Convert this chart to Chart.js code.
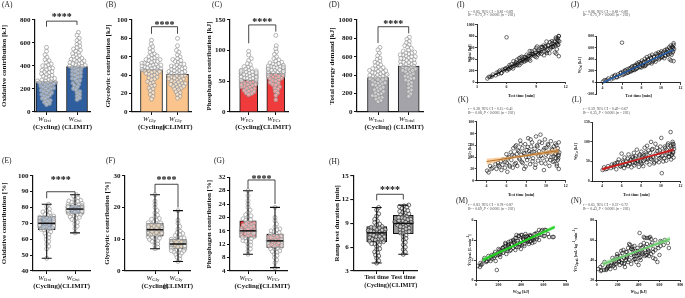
<!DOCTYPE html>
<html>
<head>
<meta charset="utf-8">
<script src="https://cdn.jsdelivr.net/npm/chart.js@4.4.1/dist/chart.umd.min.js"></script>
<style>
  body { margin: 0; width: 685px; height: 298px; position: relative; overflow: hidden; background: #fff; font-family: "Liberation Serif", "Times New Roman", serif; }
  canvas { position: absolute; }
  .tag { position: absolute; font-size: 7.5px; line-height: 1; color: #222; white-space: nowrap; z-index: 2; }
  .stat { position: absolute; font-size: 3.7px; line-height: 3.8px; color: #444; white-space: nowrap; z-index: 2; }
</style>
</head>
<body>
<div class="tag" style="left:2px;top:1px">(A)</div>
<div class="tag" style="left:106px;top:1px">(B)</div>
<div class="tag" style="left:212px;top:1px">(C)</div>
<div class="tag" style="left:329px;top:1px">(D)</div>
<div class="tag" style="left:2px;top:157px">(E)</div>
<div class="tag" style="left:106px;top:157px">(F)</div>
<div class="tag" style="left:214px;top:157px">(G)</div>
<div class="tag" style="left:329px;top:158px">(H)</div>
<div class="tag" style="left:457px;top:1px">(I)</div>
<div class="tag" style="left:571px;top:1px">(J)</div>
<div class="tag" style="left:458px;top:96px">(K)</div>
<div class="tag" style="left:572px;top:96px">(L)</div>
<div class="tag" style="left:456px;top:197px">(M)</div>
<div class="tag" style="left:571px;top:197px">(N)</div>

<div class="stat" style="left:468px;top:10.5px"><i>r</i> = 0.85, 95% CI = 0.81 - 0.89<br><i>R</i>² = 0.73, <i>P</i> &lt; 0.0001 (<i>n</i> = 202)</div>
<div class="stat" style="left:583px;top:10.5px"><i>r</i> = 0.86, 95% CI = 0.82 - 0.89<br><i>R</i>² = 0.75, <i>P</i> &lt; 0.0001 (<i>n</i> = 202)</div>
<div class="stat" style="left:468px;top:108px"><i>r</i> = 0.28, 95% CI = 0.15 - 0.41<br><i>R</i>² = 0.08, <i>P</i> &lt; 0.0001 (<i>n</i> = 202)</div>
<div class="stat" style="left:583px;top:108px"><i>r</i> = 0.59, 95% CI = 0.49 - 0.67<br><i>R</i>² = 0.35, <i>P</i> &lt; 0.0001 (<i>n</i> = 202)</div>
<div class="stat" style="left:468px;top:204px"><i>r</i> = 0.83, 95% CI = 0.78 - 0.87<br><i>R</i>² = 0.69, <i>P</i> &lt; 0.0001 (<i>n</i> = 202)</div>
<div class="stat" style="left:583px;top:204px"><i>r</i> = 0.65, 95% CI = 0.57 - 0.72<br><i>R</i>² = 0.43, <i>P</i> &lt; 0.0001 (<i>n</i> = 202)</div>

<script>
// ---- data ----
const groups = ['(Cycling)', '(CLIMIT)'];
const testLabels = ['Test time', 'Test time'];

// absolute contributions (bars = means, dots = individuals)
const oxiMeans = [265, 395];
const oxiCycling = [562, 528, 497, 476, 455, 446, 431, 418, 409, 402, 394, 381, 377, 368, 362, 351, 347, 342, 333, 326, 318, 311, 309, 298, 292, 289, 281, 277, 270, 268, 262, 257, 251, 249, 243, 236, 231, 227, 219, 214, 208, 201, 197, 189, 182, 176, 168, 161, 152, 147, 138, 129, 118, 112, 101, 93, 84, 73, 64, 255];
const oxiClimit = [692, 668, 641, 622, 605, 588, 574, 561, 548, 537, 529, 516, 507, 498, 489, 481, 472, 466, 458, 451, 444, 437, 431, 426, 418, 411, 405, 399, 392, 386, 379, 371, 364, 356, 349, 341, 333, 326, 318, 309, 301, 292, 284, 273, 262, 251, 240, 228, 216, 203, 191, 178, 165, 151, 138, 122, 108, 420, 455, 395];

const glyMeans = [46, 41];
const glyCycling = [78, 74, 71, 69, 67, 65, 63, 62, 60, 59, 58, 57, 56, 55, 54, 53, 52, 52, 51, 50, 49, 49, 48, 47, 47, 46, 45, 45, 44, 43, 42, 41, 40, 39, 38, 37, 36, 35, 33, 32, 31, 29, 28, 26, 25, 23, 21, 19, 17, 14, 53, 55, 50, 48, 46, 44, 57, 51, 42, 61];
const glyClimit = [80, 72, 67, 65, 62, 60, 58, 57, 55, 54, 52, 51, 50, 49, 48, 47, 46, 45, 44, 44, 43, 42, 41, 41, 40, 39, 38, 37, 36, 35, 34, 33, 32, 31, 30, 29, 28, 27, 26, 25, 24, 22, 21, 19, 17, 15, 45, 47, 49, 43, 39, 37, 34, 31, 28, 52, 56, 40, 36, 30];

const pcrMeans = [52, 63];
const pcrCycling = [99, 93, 87, 84, 79, 77, 74, 73, 71, 70, 68, 68, 67, 65, 65, 63, 63, 62, 60, 60, 59, 58, 56, 56, 55, 53, 53, 52, 50, 50, 49, 47, 47, 46, 44, 44, 43, 41, 41, 40, 38, 38, 36, 35, 34, 33, 31, 30, 28, 62, 58, 55, 64, 66, 52, 57, 61, 51, 45, 57];
const pcrClimit = [125, 108, 103, 98, 94, 90, 87, 85, 83, 81, 80, 78, 77, 76, 74, 74, 73, 71, 71, 70, 68, 68, 66, 66, 65, 63, 63, 62, 60, 60, 59, 57, 57, 55, 55, 54, 52, 51, 50, 48, 47, 45, 44, 41, 39, 37, 34, 31, 27, 20, 70, 72, 75, 66, 69, 64, 61, 58, 73, 79];

const totMeans = [375, 500];
const totCycling = [702, 676, 641, 612, 588, 571, 553, 541, 527, 512, 503, 489, 482, 468, 461, 449, 443, 431, 422, 412, 401, 396, 388, 379, 372, 361, 352, 343, 331, 322, 311, 303, 289, 282, 268, 261, 249, 241, 228, 222, 209, 198, 191, 178, 172, 158, 151, 139, 124, 112, 432, 471, 383, 354, 318, 408, 452, 362, 298, 398];
const totClimit = [812, 791, 768, 752, 733, 721, 704, 692, 673, 662, 651, 638, 631, 619, 608, 602, 588, 579, 571, 562, 548, 542, 531, 518, 511, 502, 489, 482, 468, 461, 452, 439, 431, 418, 412, 398, 388, 379, 368, 361, 347, 336, 318, 302, 281, 262, 238, 221, 196, 171, 601, 562, 522, 538, 582, 498, 621, 478, 642, 451];

// relative contributions and test time: box = [min, q1, median, q3, max]
const oxiPctBox = [[48, 66, 70, 74.5, 82], [64, 76, 79, 81.5, 88]];
const oxiPctCycling = [82, 80.5, 79, 78, 77.2, 76.5, 75.8, 75, 74.6, 74.1, 73.6, 73.2, 72.7, 72.3, 71.8, 71.4, 71, 70.6, 70.3, 70, 69.7, 69.3, 69, 68.6, 68.2, 67.8, 67.4, 67, 66.6, 66.2, 65.8, 65.2, 64.6, 63.8, 63, 62, 61, 59.8, 58.5, 57, 55.5, 54, 48, 70.8, 71.6, 69.5, 72.9, 67.7, 68.9, 73.9];
const oxiPctClimit = [88, 87, 86, 85.2, 84.5, 83.8, 83.2, 82.6, 82, 81.6, 81.2, 80.8, 80.4, 80, 79.7, 79.4, 79.1, 78.8, 78.5, 78.2, 77.9, 77.5, 77.1, 76.7, 76.3, 75.9, 75.4, 74.8, 74.1, 73.3, 72.5, 71.6, 70.6, 69.5, 68.2, 66.8, 64, 79.2, 80.2, 81.4, 78.9, 77.6, 76.9, 82.9, 84.1, 75.6, 73.8, 79.9, 80.6, 78.1];

const glyPctBox = [[7, 11, 13, 15, 24], [3, 7, 8.5, 10, 19]];
const glyPctCycling = [24, 22, 21, 20, 19, 18.3, 17.6, 17, 16.5, 16, 15.6, 15.2, 14.9, 14.6, 14.3, 14, 13.7, 13.4, 13.1, 12.8, 12.5, 12.2, 11.9, 11.6, 11.3, 11, 10.7, 10.3, 9.9, 9.5, 9, 8.5, 8, 7.5, 7, 13.2, 12.9, 14.1, 11.8, 13.6, 12.4, 15.1, 10.6, 9.3, 16.3, 12.1, 13.9, 11.4, 14.4, 10.1];
const glyPctClimit = [19, 16, 15, 14, 13.2, 12.5, 11.8, 11.2, 10.7, 10.3, 10, 9.7, 9.4, 9.1, 8.9, 8.7, 8.5, 8.3, 8.1, 7.9, 7.7, 7.5, 7.3, 7.1, 6.9, 6.6, 6.3, 6, 5.6, 5.2, 4.8, 4.3, 3.8, 3, 8.6, 9.2, 7.8, 8.2, 9.8, 7.2, 6.8, 10.4, 11.5, 5.8, 9, 8.8, 7.6, 12.1, 6.4, 8];

const pcrPctBox = [[9, 14, 16, 19, 28], [5, 11, 13, 15, 23]];
const pcrPctCycling = [28, 26.5, 25, 24, 23, 22.2, 21.5, 20.8, 20.2, 19.6, 19.1, 18.7, 18.3, 17.9, 17.5, 17.1, 16.7, 16.3, 16, 15.7, 15.4, 15.1, 14.8, 14.5, 14.2, 13.9, 13.5, 13.1, 12.7, 12.2, 11.7, 11.2, 10.6, 10, 9, 16.1, 15.8, 17.3, 14.6, 18.1, 15.2, 16.9, 13.7, 19.3, 12.9, 17.7, 14.1, 16.5, 20.5, 15.5];
const pcrPctClimit = [23, 20, 19, 18, 17.2, 16.6, 16, 15.5, 15.1, 14.7, 14.4, 14.1, 13.8, 13.5, 13.2, 13, 12.8, 12.6, 12.3, 12, 11.7, 11.4, 11.1, 10.8, 10.4, 10, 9.6, 9.1, 8.6, 8, 7.3, 6.5, 5, 13.1, 12.7, 14.2, 11.9, 13.6, 12.2, 14.9, 10.6, 15.8, 11.3, 13.9, 12.5, 9.8, 16.3, 14.5, 11.6, 12.9];

const durBox = [[4, 6.7, 7.8, 8.6, 11], [5.1, 7.7, 9, 10, 11.3]];
const durCycling = [11, 10.7, 10.2, 9.9, 9.5, 9.3, 9.1, 8.9, 8.8, 8.6, 8.5, 8.4, 8.2, 8.2, 8.1, 7.9, 7.9, 7.8, 7.6, 7.6, 7.5, 7.3, 7.3, 7.2, 7.0, 7.0, 6.9, 6.7, 6.7, 6.6, 6.4, 6.3, 6.1, 5.8, 5.7, 5.4, 5.3, 5.0, 4.9, 4.6, 4.3, 4.0, 7.85, 8.15, 7.35, 6.75, 8.45, 7.05, 6.45, 8.05];
const durClimit = [11.3, 11.2, 11.1, 11, 10.9, 10.7, 10.5, 10.3, 10.1, 10, 9.9, 9.7, 9.6, 9.5, 9.3, 9.2, 9.1, 9, 8.9, 8.8, 8.7, 8.5, 8.4, 8.2, 8.1, 7.9, 7.8, 7.7, 7.5, 7.3, 7.1, 6.9, 6.6, 6.3, 6, 5.7, 5.4, 5.1, 9.05, 9.35, 8.6, 10.2, 9.75, 8.3, 10.6, 9.45, 7.95, 10.4, 8.95, 9.15];

// significance brackets: [bar level, left leg end, right leg end, stars level]
const oxiSig = [790, 742, 757, 843];
const glySig = [92.7, 85, 85, 96.4];
const pcrSig = [142, 112, 131, 150];
const totSig = [927, 750, 855, 982];
const oxiPctSig = [89.9, 85.8, 87.9, 98.5];
const glyPctSig = [27.3, 24.5, 20, 29.3];
const pcrPctSig = [31.2, 28.6, 24, 32];
const durSig = [12.66, 11.9, 12.0, 13.4];

// y tick lists
const oxiTicks = [0, 200, 400, 600, 800];
const glyTicks = [0, 20, 40, 60, 80, 100];
const pcrTicks = [0, 50, 100, 150];
const totTicks = [0, 200, 400, 600, 800, 1000];
const oxiPctTicks = [40, 50, 60, 70, 80, 90, 100];
const glyPctTicks = [0, 10, 20, 30];
const pcrPctTicks = [4, 8, 12, 16, 20, 24, 28, 32];
const durTicks = [3, 6, 9, 12, 15];

// correlation data (both tests pooled)
const testTime = [4.05, 4.2, 4.35, 4.6, 4.9, 5.0, 5.15, 5.3, 5.45, 5.6, 5.7, 5.85, 6.0, 6.05, 6.1, 6.25, 6.3, 6.45, 6.5, 6.65, 6.7, 6.8, 6.95, 7.0, 7.05, 7.1, 7.25, 7.3, 7.4, 7.5, 7.55, 7.6, 7.75, 7.8, 7.9, 8.0, 8.05, 8.1, 8.2, 8.35, 8.4, 8.5, 8.55, 8.6, 8.7, 8.85, 8.9, 9.0, 9.05, 9.1, 9.2, 9.3, 9.45, 9.5, 9.55, 9.6, 9.75, 9.8, 9.9, 10.0, 10.05, 10.1, 10.2, 10.35, 10.4, 10.5, 10.55, 10.6, 10.7, 10.8, 10.9, 11.0, 11.05, 11.1, 11.15, 11.2, 11.25, 11.3, 11.3, 11.35,
  4.5, 5.2, 5.5, 5.9, 6.15, 6.35, 6.6, 6.85, 7.15, 7.35, 7.45, 7.65, 7.85, 7.95, 8.15, 8.25, 8.45, 8.65, 8.75, 8.95, 9.15, 9.25, 9.35, 9.65, 9.85, 9.95, 10.15, 10.25, 10.45, 10.65, 10.75, 10.85, 10.95, 11.0, 11.1, 11.2, 11.25, 11.3, 6.9, 8.3];
const wTotal = [60, 89, 90, 130, 116, 162, 141, 199, 153, 215, 201, 225, 780, 200, 252, 223, 296, 250, 310, 235, 363, 282, 345, 300, 387, 293, 412, 293, 426, 329, 442, 362, 433, 355, 432, 375, 476, 395, 455, 540, 373, 496, 536, 485, 486, 556, 444, 595, 431, 620, 476, 535, 533, 612, 492, 609, 637, 466, 618, 534, 706, 506, 637, 503, 696, 603, 612, 714, 614, 660, 515, 753, 495, 673, 738, 650, 717, 803, 450, 710,
  96, 176, 159, 239, 226, 265, 271, 317, 327, 367, 360, 390, 379, 411, 410, 452, 453, 488, 462, 514, 500, 552, 504, 604, 533, 627, 551, 640, 579, 682, 617, 705, 641, 776, 571, 765, 650, 800, 300, 396];
const wOxi = [15, 40, 35, 70, 55, 100, 75, 130, 90, 140, 110, 165, 690, 130, 185, 150, 210, 160, 225, 175, 240, 195, 260, 205, 280, 220, 290, 215, 300, 240, 330, 255, 350, 270, 320, 260, 380, 300, 345, 410, 290, 370, 440, 330, 390, 460, 350, 420, 330, 480, 380, 440, 360, 500, 410, 460, 520, 400, 470, 430, 540, 450, 500, 420, 560, 470, 520, 580, 490, 540, 400, 590, 380, 560, 620, 520, 600, 650, 370, 580,
  45, 110, 95, 170, 140, 200, 170, 245, 215, 285, 235, 310, 265, 340, 290, 360, 310, 400, 335, 430, 360, 450, 390, 490, 420, 510, 440, 530, 460, 560, 480, 610, 500, 640, 480, 610, 540, 680, 190, 280];
const wGly = [17, 14, 25, 22, 28, 20, 30, 24, 33, 27, 36, 22, 45, 30, 15, 40, 26, 48, 35, 22, 55, 42, 30, 60, 45, 25, 50, 38, 68, 44, 32, 55, 47, 20, 62, 40, 52, 35, 72, 45, 28, 58, 48, 65, 38, 54, 22, 75, 46, 60, 34, 50, 78, 42, 30, 64, 52, 18, 70, 44, 56, 36, 62, 25, 48, 67, 40, 54, 32, 58, 45, 38, 60, 28, 50, 35, 42, 65, 20, 48,
  20, 26, 18, 32, 38, 24, 44, 28, 52, 36, 62, 30, 46, 24, 57, 40, 70, 33, 49, 27, 58, 42, 66, 38, 55, 29, 47, 60, 35, 52, 41, 33, 63, 46, 25, 55, 38, 44, 58, 50];
const wPCr = [28, 35, 30, 38, 33, 42, 36, 45, 30, 48, 55, 38, 70, 40, 52, 33, 60, 42, 50, 38, 68, 45, 55, 35, 62, 48, 72, 40, 58, 45, 80, 52, 36, 65, 50, 75, 44, 60, 38, 85, 55, 68, 48, 90, 58, 42, 72, 100, 55, 80, 62, 45, 95, 70, 52, 85, 65, 48, 78, 60, 110, 20, 75, 58, 88, 66, 52, 80, 92, 62, 70, 125, 55, 85, 68, 95, 75, 88, 60, 82,
  31, 40, 46, 37, 48, 41, 57, 44, 60, 46, 63, 50, 68, 47, 63, 52, 73, 55, 78, 57, 82, 60, 48, 76, 58, 88, 64, 50, 84, 70, 96, 62, 78, 90, 66, 100, 72, 94, 52, 66];
const vo2Abs = [1.4, 1.7, 1.3, 2.0, 1.6, 1.9, 2.2, 2.3, 1.8, 2.5, 2.1, 2.6, 4.3, 1.9, 1.0, 2.4, 3.0, 2.2, 2.8, 1.9, 3.2, 2.7, 3.4, 2.5, 3.1, 2.9, 3.6, 2.3, 3.3, 2.7, 3.9, 3.0, 4.2, 2.6, 3.5, 3.7, 4.4, 2.9, 3.4, 4.5, 3.8, 3.9, 4.6, 3.2, 3.6, 4.3, 3.0, 4.1, 4.0, 4.5, 3.3, 3.9, 4.5, 4.1, 3.5, 3.8, 4.6, 3.1, 4.2, 3.4, 4.3, 4.0, 3.7, 4.3, 5.0, 3.6, 4.2, 4.9, 3.9, 4.7, 4.5, 5.0, 4.4, 4.0, 5.0, 3.8, 4.4, 4.3, 3.7, 4.5,
  1.5, 2.4, 1.9, 2.8, 2.1, 3.1, 2.4, 3.3, 2.6, 3.5, 3.2, 3.0, 3.6, 3.8, 3.4, 3.3, 3.9, 4.0, 3.7, 3.6, 4.2, 4.4, 3.5, 4.4, 4.1, 4.0, 4.3, 4.6, 3.9, 4.5, 4.4, 5.0, 4.2, 4.6, 3.8, 4.4, 4.1, 4.3, 2.5, 2.9];
const vo2Rel = [31, 29, 33, 30, 35, 32, 38, 34, 30, 37, 33, 40, 52, 31, 36, 42, 38, 34, 44, 32, 40, 46, 36, 41, 48, 35, 43, 39, 52, 37, 45, 50, 40, 33, 55, 42, 47, 38, 50, 67, 44, 41, 53, 36, 49, 62, 46, 43, 51, 56, 38, 48, 54, 62, 42, 50, 61, 35, 45, 52, 48, 57, 44, 40, 60, 53, 46, 55, 50, 42, 47, 52, 44, 41, 58, 55, 45, 60, 49, 38,
  30, 34, 31, 38, 35, 44, 36, 47, 39, 42, 49, 40, 37, 53, 48, 44, 56, 45, 51, 47, 41, 63, 52, 48, 55, 63, 46, 57, 44, 50, 62, 54, 49, 55, 45, 59, 51, 57, 43, 40];

// regression lines and 95% bands
const fitTotal = [[4.3, 80], [11.35, 705]];
const fitOxi = [[4.1, 0], [11.3, 570]];
const bandOxiHi = [[4.1, 18], [7.6, 290], [11.3, 590]];
const bandOxiLo = [[4.1, -18], [7.6, 270], [11.3, 550]];
const fitGly = [[4.0, 32.5], [11.3, 51]];
const bandGlyHi = [[4.0, 37], [7.6, 43.4], [11.3, 55.5]];
const bandGlyLo = [[4.0, 28], [7.6, 39.8], [11.3, 46.5]];
const fitPCr = [[4.0, 30], [11.3, 80]];
const bandPCrHi = [[4.0, 34], [7.6, 56.5], [11.3, 84]];
const bandPCrLo = [[4.0, 26], [7.6, 53], [11.3, 76]];
const fitVo2Abs = [[60, 2.0], [700, 5.3]];
const bandVo2AbsHi = [[60, 2.2], [370, 3.72], [700, 5.5]];
const bandVo2AbsLo = [[60, 1.8], [370, 3.48], [700, 5.1]];
const fitVo2Rel = [[60, 36], [700, 61]];
const bandVo2RelHi = [[60, 38.5], [380, 49.4], [700, 63.5]];
const bandVo2RelLo = [[60, 33.5], [380, 47.4], [700, 58.5]];

const timeTicks = [3, 6, 9, 12];
const timeTicks2 = [4, 6, 8, 10, 12];
const kjTicks = [0, 200, 400, 600, 800];

// ---- drawing helpers ----
const SERIF = '"Liberation Serif", "Times New Roman", serif';
Chart.defaults.font.family = SERIF;
Chart.defaults.color = '#111';

function mkCanvas(g) {
  const c = document.createElement('canvas');
  c.width = g.cw; c.height = g.ch;
  c.style.left = g.cl + 'px'; c.style.top = g.ct + 'px';
  c.style.width = g.cw + 'px'; c.style.height = g.ch + 'px';
  document.body.appendChild(c);
  return c;
}

function useTicks(list) {
  return s => { s.ticks = list.map(v => ({ value: v })); };
}
const plain = v => String(v);

function partFont(st, size, bold) {
  const sz = (st === 'sub' || st === 'sup') ? size * 0.72 : size;
  return (st === 'i' ? 'italic ' : '') + (bold ? 'bold ' : '') + sz + 'px ' + SERIF;
}

// text with italic / subscript / superscript pieces, centred on (x, y)
function drawRich(ctx, parts, x, y, size, bold, rot) {
  ctx.save();
  ctx.translate(x, y);
  if (rot) ctx.rotate(-Math.PI / 2);
  ctx.textBaseline = 'middle';
  ctx.textAlign = 'left';
  ctx.fillStyle = '#111';
  let w = 0;
  parts.forEach(([t, st]) => { ctx.font = partFont(st, size, bold); w += ctx.measureText(t).width; });
  let cx = -w / 2;
  parts.forEach(([t, st]) => {
    ctx.font = partFont(st, size, bold);
    const dy = st === 'sub' ? size * 0.3 : st === 'sup' ? -size * 0.35 : 0;
    ctx.fillText(t, cx, dy);
    cx += ctx.measureText(t).width;
  });
  ctx.restore();
}

// simple beeswarm: pixel offsets for values already given in pixels
function swarm(ys, d, maxHalf) {
  const order = ys.map((v, i) => i).sort((a, b) => ys[a] - ys[b]);
  const placed = [];
  const off = new Array(ys.length).fill(0);
  order.forEach(i => {
    const y = ys[i];
    const near = placed.filter(p => Math.abs(p.y - y) < d);
    const cands = [0];
    near.forEach(p => {
      const dx = Math.sqrt(d * d - (p.y - y) ** 2);
      cands.push(p.x + dx, p.x - dx);
    });
    cands.sort((a, b) => Math.abs(a) - Math.abs(b));
    let x = null;
    for (const c of cands) {
      if (Math.abs(c) > maxHalf) continue;
      if (near.every(p => (p.x - c) ** 2 + (p.y - y) ** 2 >= d * d - 0.01)) { x = c; break; }
    }
    if (x === null) {
      const free = cands.find(c => near.every(p => (p.x - c) ** 2 + (p.y - y) ** 2 >= d * d - 0.01));
      x = Math.max(-maxHalf, Math.min(maxHalf, free === undefined ? 0 : free));
    }
    off[i] = x;
    placed.push({ x, y });
  });
  return off;
}

function leftDecor(g, p) {
  return {
    id: 'leftDecor',
    afterDatasetsDraw(chart) {
      if (!p.box) return;
      const { ctx, scales: { x, y } } = chart;
      ctx.save();
      ctx.strokeStyle = '#111';
      p.box.forEach((b, i) => {
        const cx = x.getPixelForValue(i);
        const [mn, q1, md, q3, mx] = b.map(v => y.getPixelForValue(v));
        ctx.lineWidth = 1.1;
        ctx.beginPath();
        ctx.moveTo(cx, q1); ctx.lineTo(cx, mn);
        ctx.moveTo(cx - 5, mn); ctx.lineTo(cx + 5, mn);
        ctx.moveTo(cx, q3); ctx.lineTo(cx, mx);
        ctx.moveTo(cx - 5, mx); ctx.lineTo(cx + 5, mx);
        ctx.stroke();
        ctx.lineWidth = 1.5;
        ctx.beginPath();
        ctx.moveTo(cx - g.bw / 2, md); ctx.lineTo(cx + g.bw / 2, md);
        ctx.stroke();
      });
      ctx.restore();
    },
    afterDraw(chart) {
      const { ctx, scales: { x, y } } = chart;
      const x0 = x.getPixelForValue(0), x1 = x.getPixelForValue(1);
      const [yb, yl, yr, ys] = p.sig.map(v => y.getPixelForValue(v));
      ctx.save();
      ctx.strokeStyle = '#333';
      ctx.lineWidth = 0.9;
      ctx.beginPath();
      ctx.moveTo(x0, yl); ctx.lineTo(x0, yb); ctx.lineTo(x1, yb); ctx.lineTo(x1, yr);
      ctx.stroke();
      ctx.fillStyle = '#111';
      ctx.font = 'bold 10px ' + SERIF;
      ctx.textAlign = 'center';
      ctx.textBaseline = 'middle';
      ctx.fillText('****', (x0 + x1) / 2, ys + 2.5);
      ctx.restore();
      if (p.sub) {
        [0, 1].forEach(i => {
          drawRich(ctx, [['W', 'i'], [p.sub, 'sub']], x.getPixelForValue(i) - 2, x.top + 3 + 4, 6.8, false);
        });
      }
    }
  };
}

function leftPanel(g, p) {
  const cv = mkCanvas(g);
  const ppu = g.c1 - g.c0;
  const xmin = -(g.c0 - g.L) / ppu;
  const xmax = 1 + (g.R - g.c1) / ppu;
  const pxY = (g.B - g.T) / (p.ymax - p.ymin);
  const dots = [];
  p.dots.forEach((vals, i) => {
    const offs = swarm(vals.map(v => (v - p.ymin) * pxY), 3.1, g.bw / 2 - 1.5);
    vals.forEach((v, k) => dots.push({ x: i + offs[k] / ppu, y: v }));
  });
  const datasets = [{
    type: 'scatter', data: dots, order: 0,
    pointRadius: 2.0, pointBorderWidth: 0.65,
    pointBackgroundColor: p.dotFill, pointBorderColor: p.dotLine
  }];
  if (p.means) {
    datasets.push({
      type: 'bar', order: 1, data: p.means.map((m, i) => ({ x: i, y: m })),
      backgroundColor: p.color, borderColor: '#1a1a1a', borderWidth: 1, barThickness: g.bw
    });
  }
  if (p.box) {
    datasets.push({
      type: 'bar', order: 1, data: p.box.map((b, i) => ({ x: i, y: [b[1], b[3]] })),
      backgroundColor: p.color, borderColor: '#111', borderWidth: 1.1, borderSkipped: false, barThickness: g.bw
    });
  }
  new Chart(cv, {
    type: 'bar',
    data: { datasets },
    options: {
      responsive: false, animation: false, events: [],
      plugins: { legend: { display: false }, tooltip: { enabled: false } },
      layout: { padding: { top: g.T - g.ct, right: g.cl + g.cw - g.R, left: 0, bottom: 0 } },
      scales: {
        x: {
          type: 'linear', min: xmin, max: xmax, offset: false,
          afterBuildTicks: useTicks([0, 1]),
          border: { color: '#111', width: 1.2 },
          grid: { offset: false, drawOnChartArea: false, color: '#111', lineWidth: 1, tickLength: 3 },
          ticks: {
            autoSkip: false, maxRotation: 0, padding: 0, color: '#111',
            font: { size: p.top ? 6.3 : 6.8, weight: 'bold' },
            callback: (v, i) => [p.top ? p.top[i] : '', groups[i]]
          },
          afterFit: s => { s.height = g.ch - (g.B - g.ct); s.paddingLeft = 0; s.paddingRight = 0; }
        },
        y: {
          type: 'linear', min: p.ymin, max: p.ymax,
          afterBuildTicks: useTicks(p.ticks),
          border: { color: '#111', width: 1.2 },
          grid: { drawOnChartArea: false, color: '#111', lineWidth: 1.1, tickLength: 3 },
          ticks: { font: { size: 7, weight: 'bold' }, color: '#111', padding: 1.5, callback: plain },
          title: { display: true, text: p.title, font: { size: 7, weight: 'bold' }, color: '#111', padding: 0 },
          afterFit: s => { s.width = g.L - g.cl; s.paddingTop = 0; s.paddingBottom = 0; }
        }
      }
    },
    plugins: [leftDecor(g, p)]
  });
}

function scatterPanel(g, p) {
  const cv = mkCanvas(g);
  const xy = a => a.map(([x, y]) => ({ x, y }));
  const datasets = [{
    type: 'line', data: xy(p.fit), borderColor: p.lineColor, borderWidth: p.lineWidth,
    pointRadius: 0, fill: false, tension: 0
  }];
  if (p.bandHi) {
    datasets.push(
      { type: 'line', data: xy(p.bandHi), borderWidth: 0, borderColor: 'rgba(0,0,0,0)', pointRadius: 0, backgroundColor: p.bandColor, fill: '+1', tension: 0.4 },
      { type: 'line', data: xy(p.bandLo), borderWidth: 0, borderColor: 'rgba(0,0,0,0)', pointRadius: 0, fill: false, tension: 0.4 }
    );
  }
  datasets.push({
    type: 'scatter', data: p.xs.map((x, i) => ({ x, y: p.ys[i] })),
    pointRadius: 1.8, pointBorderWidth: 0.6, pointBorderColor: '#111', pointBackgroundColor: 'rgba(255,255,255,0)'
  });
  const tickFont = { size: 3.9, weight: 'bold' };
  new Chart(cv, {
    type: 'scatter',
    data: { datasets },
    options: {
      responsive: false, animation: false, events: [],
      plugins: { legend: { display: false }, tooltip: { enabled: false } },
      layout: { padding: { top: g.T - g.ct, right: g.cl + g.cw - g.R, left: 0, bottom: p.xAtZero ? g.ct + g.ch - g.B : 0 } },
      scales: {
        x: {
          type: 'linear', min: p.xmin, max: p.xmax,
          position: p.xAtZero ? { y: 0 } : 'bottom',
          afterBuildTicks: useTicks(p.xticks),
          border: { color: '#111', width: 0.9 },
          grid: { drawOnChartArea: false, color: '#111', lineWidth: 0.8, tickLength: 2 },
          ticks: { font: tickFont, color: '#111', padding: 1, autoSkip: false, maxRotation: 0, callback: plain },
          afterFit: s => { s.height = p.xAtZero ? 12 : g.ch - (g.B - g.ct); s.paddingLeft = 0; s.paddingRight = 0; }
        },
        y: {
          type: 'linear', min: p.ymin, max: p.ymax,
          afterBuildTicks: useTicks(p.yticks),
          border: { color: '#111', width: 0.9 },
          grid: { drawOnChartArea: false, color: '#111', lineWidth: 0.8, tickLength: 2 },
          ticks: { font: tickFont, color: '#111', padding: 0.5, callback: plain },
          afterFit: s => { s.width = g.L - g.cl; s.paddingTop = 0; s.paddingBottom = 0; }
        }
      }
    },
    plugins: [{
      id: 'axisTitles',
      afterDraw(chart) {
        const { ctx, chartArea } = chart;
        drawRich(ctx, p.xTitle, (chartArea.left + chartArea.right) / 2, g.ty - g.ct, 4.1, true, false);
        drawRich(ctx, p.yTitle, g.tx - g.cl, (chartArea.top + chartArea.bottom) / 2, 4.1, true, true);
      }
    }]
  });
}

// ---- left block: bars ----
const dotFill = 'rgba(255,255,255,0.5)';
const dotLine = '#8f8f8f';

leftPanel({ cl: 0, ct: 0, cw: 100, ch: 140, L: 35, T: 20, R: 90, B: 112, c0: 46.5, c1: 77, bw: 21 },
  { ymin: 0, ymax: 800, ticks: oxiTicks, title: 'Oxidative contribution [kJ]', means: oxiMeans, dots: [oxiCycling, oxiClimit],
    color: '#2E5E9E', dotFill, dotLine, sig: oxiSig, sub: 'Oxi' });
leftPanel({ cl: 104, ct: 0, cw: 96, ch: 140, L: 132, T: 20, R: 191, B: 112, c0: 151.5, c1: 177.5, bw: 22 },
  { ymin: 0, ymax: 100, ticks: glyTicks, title: 'Glycolytic contribution [kJ]', means: glyMeans, dots: [glyCycling, glyClimit],
    color: '#FAC48C', dotFill, dotLine, sig: glySig, sub: 'Gly' });
leftPanel({ cl: 205, ct: 0, cw: 95, ch: 140, L: 230, T: 20, R: 288, B: 112, c0: 248.7, c1: 275.8, bw: 18 },
  { ymin: 0, ymax: 150, ticks: pcrTicks, title: 'Phosphagen contribution [kJ]', means: pcrMeans, dots: [pcrCycling, pcrClimit],
    color: '#EF3B3B', dotFill, dotLine, sig: pcrSig, sub: 'PCr' });
leftPanel({ cl: 328, ct: 0, cw: 104, ch: 140, L: 357, T: 20, R: 423, B: 112, c0: 378, c1: 408.7, bw: 21 },
  { ymin: 0, ymax: 1000, ticks: totTicks, title: 'Total energy demand [kJ]', means: totMeans, dots: [totCycling, totClimit],
    color: '#A3A3A9', dotFill, dotLine, sig: totSig, sub: 'Total' });

// ---- left block: boxes ----
const boxDotFill = 'rgba(255,255,255,0.55)';
leftPanel({ cl: 0, ct: 150, cw: 100, ch: 148, L: 33, T: 175.7, R: 90, B: 271, c0: 46.7, c1: 75, bw: 17 },
  { ymin: 40, ymax: 100, ticks: oxiPctTicks, title: 'Oxidative contribution [%]', box: oxiPctBox, dots: [oxiPctCycling, oxiPctClimit],
    color: '#2E5E9E', dotFill: boxDotFill, dotLine, sig: oxiPctSig, sub: 'Oxi' });
leftPanel({ cl: 103, ct: 150, cw: 97, ch: 148, L: 125, T: 175.7, R: 190, B: 271, c0: 155, c1: 178, bw: 16.5 },
  { ymin: 0, ymax: 30, ticks: glyPctTicks, title: 'Glycolytic contribution [%]', box: glyPctBox, dots: [glyPctCycling, glyPctClimit],
    color: '#CFA062', dotFill: boxDotFill, dotLine, sig: glyPctSig, sub: 'Gly' });
leftPanel({ cl: 205, ct: 150, cw: 95, ch: 148, L: 230, T: 177.3, R: 287, B: 271, c0: 248, c1: 275, bw: 16.5 },
  { ymin: 4, ymax: 32, ticks: pcrPctTicks, title: 'Phosphagen contribution [%]', box: pcrPctBox, dots: [pcrPctCycling, pcrPctClimit],
    color: '#E83838', dotFill: boxDotFill, dotLine, sig: pcrPctSig, sub: 'PCr' });
leftPanel({ cl: 333, ct: 150, cw: 100, ch: 148, L: 353.3, T: 175.7, R: 417, B: 271, c0: 376.7, c1: 403.3, bw: 20 },
  { ymin: 3, ymax: 15, ticks: durTicks, title: 'Ramp test duration [min]', box: durBox, dots: [durCycling, durClimit],
    color: '#9C9C9C', dotFill: 'rgba(240,240,240,0.6)', dotLine: '#262626', sig: durSig, top: testLabels });

// ---- right block: correlations ----
const timeTitle = [['Test time [min]', '']];
const kj = [' [kJ]', ''];

scatterPanel({ cl: 455, ct: 0, cw: 117, ch: 100, L: 477, T: 24.7, R: 565.7, B: 82, tx: 469.5, ty: 96 },
  { xs: testTime, ys: wTotal, xmin: 3, xmax: 12, xticks: timeTicks, ymin: 0, ymax: 1000, yticks: totTicks,
    fit: fitTotal, lineColor: '#111', lineWidth: 1, xTitle: timeTitle, yTitle: [['W', 'i'], ['Total', 'sub'], kj] });
scatterPanel({ cl: 572, ct: 0, cw: 113, ch: 100, L: 596.7, T: 36.3, R: 680.7, B: 94, tx: 580, ty: 96 },
  { xs: testTime, ys: wOxi, xmin: 3.4, xmax: 12, xticks: timeTicks2, ymin: -200, ymax: 800, yticks: [-200, 0, 200, 400, 600, 800],
    xAtZero: true, fit: fitOxi, bandHi: bandOxiHi, bandLo: bandOxiLo, lineColor: '#1F5AA6', bandColor: 'rgba(90,140,210,0.45)', lineWidth: 1.4,
    xTitle: timeTitle, yTitle: [['W', 'i'], ['Oxi', 'sub'], kj] });
scatterPanel({ cl: 455, ct: 100, cw: 117, ch: 100, L: 476.7, T: 121.7, R: 565.7, B: 180.7, tx: 469.5, ty: 195 },
  { xs: testTime, ys: wGly, xmin: 3, xmax: 12, xticks: timeTicks2, ymin: 0, ymax: 100, yticks: glyTicks,
    fit: fitGly, bandHi: bandGlyHi, bandLo: bandGlyLo, lineColor: '#B8742A', bandColor: 'rgba(245,175,100,0.6)', lineWidth: 1.2,
    xTitle: timeTitle, yTitle: [['W', 'i'], ['Gly', 'sub'], kj] });
scatterPanel({ cl: 572, ct: 100, cw: 113, ch: 100, L: 592.3, T: 122.3, R: 680.7, B: 181, tx: 576, ty: 195 },
  { xs: testTime, ys: wPCr, xmin: 3, xmax: 12, xticks: timeTicks2, ymin: 0, ymax: 150, yticks: pcrTicks,
    fit: fitPCr, bandHi: bandPCrHi, bandLo: bandPCrLo, lineColor: '#C81E1E', bandColor: 'rgba(220,40,40,0.6)', lineWidth: 1.6,
    xTitle: timeTitle, yTitle: [['W', 'i'], ['PCr', 'sub'], kj] });
scatterPanel({ cl: 455, ct: 198, cw: 117, ch: 100, L: 476, T: 220, R: 566, B: 280, tx: 469.5, ty: 292 },
  { xs: wOxi, ys: vo2Abs, xmin: 0, xmax: 800, xticks: kjTicks, ymin: 0, ymax: 6, yticks: [0, 2, 4, 6],
    fit: fitVo2Abs, bandHi: bandVo2AbsHi, bandLo: bandVo2AbsLo, lineColor: '#1FD21F', bandColor: 'rgba(60,220,60,0.55)', lineWidth: 1.6,
    xTitle: [['W', 'i'], ['Oxi', 'sub'], kj],
    yTitle: [['V\u0307O', ''], ['2peak', 'sub'], [' [L\u00b7min', ''], ['\u22121', 'sup'], [']', '']] });
scatterPanel({ cl: 572, ct: 198, cw: 113, ch: 100, L: 596.7, T: 220, R: 683, B: 280, tx: 576, ty: 292 },
  { xs: wOxi, ys: vo2Rel, xmin: 0, xmax: 800, xticks: kjTicks, ymin: 20, ymax: 80, yticks: [20, 40, 60, 80],
    fit: fitVo2Rel, bandHi: bandVo2RelHi, bandLo: bandVo2RelLo, lineColor: '#6CCB6C', bandColor: 'rgba(130,215,130,0.55)', lineWidth: 1.4,
    xTitle: [['W', 'i'], ['Oxi', 'sub'], kj],
    yTitle: [['V\u0307O', ''], ['2peak', 'sub'], [' [mL\u00b7kg', ''], ['\u22121', 'sup'], ['\u00b7min', ''], ['\u22121', 'sup'], [']', '']] });
</script>
</body>
</html>
